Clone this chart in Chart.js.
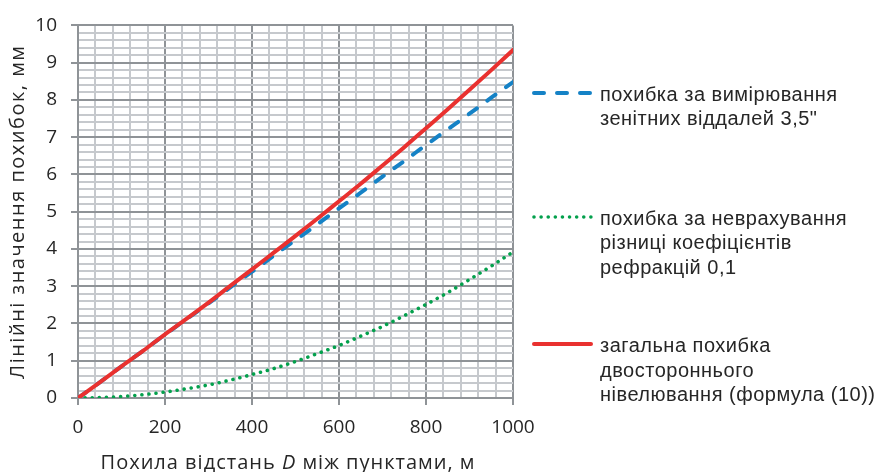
<!DOCTYPE html>
<html>
<head>
<meta charset="utf-8">
<script src="https://cdn.jsdelivr.net/npm/chart.js@4.4.1/dist/chart.umd.min.js"></script>
<style>
  html, body { margin: 0; padding: 0; background: #fff; }
</style>
</head>
<body>
<canvas id="errorChart" width="880" height="472"></canvas>
<script>
// Похила відстань D, м
const distances = [0, 50, 100, 150, 200, 250, 300, 350, 400, 450, 500,
                   550, 600, 650, 700, 750, 800, 850, 900, 950, 1000];
// похибка за вимірювання зенітних віддалей, мм
const zenithError = [0, 0.42, 0.85, 1.27, 1.70, 2.12, 2.54, 2.97, 3.39, 3.82, 4.24,
                     4.66, 5.09, 5.51, 5.94, 6.36, 6.79, 7.21, 7.63, 8.06, 8.48];
// похибка за неврахування різниці коефіцієнтів рефракції, мм
const refractionError = [0, 0.01, 0.04, 0.09, 0.16, 0.25, 0.35, 0.48, 0.63, 0.79, 0.98,
                         1.19, 1.41, 1.66, 1.92, 2.21, 2.51, 2.83, 3.18, 3.54, 3.92];
// загальна похибка, мм
const totalError = [0, 0.42, 0.85, 1.27, 1.71, 2.13, 2.56, 3.01, 3.45, 3.90, 4.35,
                    4.81, 5.28, 5.75, 6.24, 6.73, 7.24, 7.75, 8.27, 8.80, 9.34];

const xLabelStep = 200;   // підписи осі X
const yLabelStep = 1;     // підписи осі Y
const legendNames = [
  ['похибка за вимірювання', 'зенітних віддалей 3,5"'],
  ['похибка за неврахування', 'різниці коефіцієнтів', 'рефракцій 0,1'],
  ['загальна похибка', 'двостороннього', 'нівелювання (формула (10))']
];
const yTitle = 'Лінійні значення похибок, мм';
const xTitleParts = ['Похила відстань ', 'D', ' між пунктами, м'];

const MAJOR = '#8f9397';
const MINOR = '#c6c9cd';
const TEXT = '#262626';

function toPoints(values) {
  return distances.map((d, i) => ({ x: d, y: values[i] }));
}
function isMultiple(v, step) {
  return Math.abs(v / step - Math.round(v / step)) < 1e-6;
}

// підписи осей і легенда праворуч
const annotate = {
  id: 'annotate',
  afterDraw(chart) {
    const ctx = chart.ctx;
    const area = chart.chartArea;
    ctx.save();
    ctx.fillStyle = TEXT;

    // назва осі Y
    ctx.save();
    ctx.font = '20px "Open Sans"';
    ctx.letterSpacing = '1.5px';
    ctx.translate(18, (area.top + area.bottom) / 2);
    ctx.rotate(-Math.PI / 2);
    ctx.textAlign = 'center';
    ctx.textBaseline = 'middle';
    ctx.fillText(yTitle, 0, 0);
    ctx.restore();

    // назва осі X, D курсивом
    ctx.save();
    ctx.letterSpacing = '1px';
    ctx.textBaseline = 'alphabetic';
    const fonts = ['20px "Open Sans"', 'italic 20px "Open Sans"', '20px "Open Sans"'];
    let total = 0;
    const widths = xTitleParts.map((t, i) => {
      ctx.font = fonts[i];
      const w = ctx.measureText(t).width;
      total += w;
      return w;
    });
    let x = 288 - total / 2;
    xTitleParts.forEach((t, i) => {
      ctx.font = fonts[i];
      ctx.fillText(t, x, 469);
      x += widths[i];
    });
    ctx.restore();

    // легенда
    const lineY = [93, 217, 344];
    const textY = [[101, 125], [225, 249, 274], [352, 377, 401]];
    chart.data.datasets.forEach((ds, i) => {
      ctx.save();
      ctx.strokeStyle = ds.borderColor;
      ctx.lineWidth = ds.borderWidth;
      ctx.lineCap = ds.borderCapStyle || 'butt';
      ctx.setLineDash(ds.borderDash || []);
      ctx.beginPath();
      ctx.moveTo(534, lineY[i]);
      ctx.lineTo(591, lineY[i]);
      ctx.stroke();
      ctx.restore();

      ctx.save();
      ctx.font = '20px "Liberation Sans"';
      ctx.letterSpacing = '0.5px';
      ctx.textBaseline = 'alphabetic';
      ctx.textAlign = 'left';
      legendNames[i].forEach((line, j) => ctx.fillText(line, 600, textY[i][j]));
      ctx.restore();
    });
    ctx.restore();
  }
};

const ctx = document.getElementById('errorChart').getContext('2d');
const errorChart = new Chart(ctx, {
  type: 'line',
  data: {
    datasets: [
      {
        label: legendNames[0].join(' '),
        data: toPoints(zenithError),
        borderColor: '#1582c6',
        borderWidth: 4,
        borderDash: [10, 13],
        borderCapStyle: 'round',
        pointRadius: 0,
        order: 2
      },
      {
        label: legendNames[1].join(' '),
        data: toPoints(refractionError),
        borderColor: '#03a04c',
        borderWidth: 3.6,
        borderDash: [0.01, 7.1],
        borderCapStyle: 'round',
        pointRadius: 0,
        order: 1
      },
      {
        label: legendNames[2].join(' '),
        data: toPoints(totalError),
        borderColor: '#e9312f',
        borderWidth: 4,
        borderCapStyle: 'round',
        pointRadius: 0,
        order: 0
      }
    ]
  },
  options: {
    responsive: false,
    animation: false,
    cubicInterpolationMode: 'monotone',
    layout: { padding: { top: 21, right: 367, left: 0, bottom: 0 } },
    plugins: {
      legend: { display: false },
      tooltip: { enabled: false }
    },
    scales: {
      x: {
        type: 'linear',
        min: 0,
        max: 1000,
        afterFit: s => { s.height = 74; },
        border: { color: MAJOR, width: 2 },
        grid: {
          lineWidth: 2,
          color: c => isMultiple(c.tick.value, xLabelStep) ? MAJOR : MINOR,
          tickColor: c => isMultiple(c.tick.value, xLabelStep) ? MAJOR : 'rgba(0,0,0,0)',
          tickLength: 7
        },
        ticks: {
          stepSize: 40,
          autoSkip: false,
          maxRotation: 0,
          padding: 11,
          color: TEXT,
          font: { family: '"Open Sans"', size: 19 },
          callback: v => isMultiple(v, xLabelStep) ? String(Math.round(v)) : ''
        }
      },
      y: {
        min: 0,
        max: 10,
        afterFit: s => { s.width = 78; },
        border: { color: MAJOR, width: 2 },
        grid: {
          lineWidth: 2,
          color: c => isMultiple(c.tick.value, yLabelStep) ? MAJOR : MINOR,
          tickColor: c => isMultiple(c.tick.value, yLabelStep) ? MAJOR : 'rgba(0,0,0,0)',
          tickLength: 7
        },
        ticks: {
          stepSize: 0.2,
          autoSkip: false,
          padding: 14,
          color: TEXT,
          font: { family: '"Open Sans"', size: 19 },
          callback: v => isMultiple(v, yLabelStep) ? String(Math.round(v)) : ''
        }
      }
    }
  },
  plugins: [annotate]
});
</script>
</body>
</html>
